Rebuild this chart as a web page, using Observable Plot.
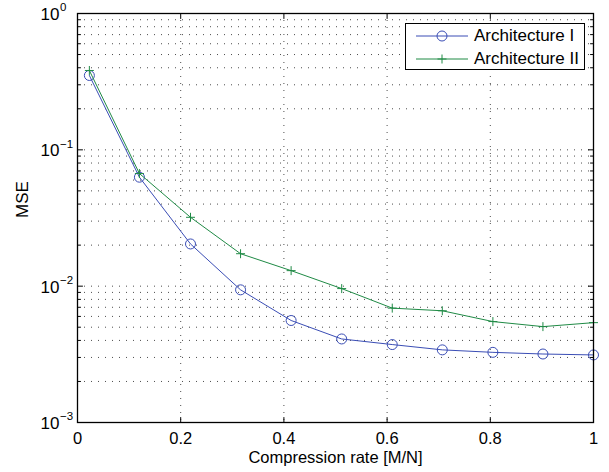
<!DOCTYPE html>
<html>
<head>
<meta charset="utf-8">
<script src="https://cdn.jsdelivr.net/npm/d3@7"></script>
<script src="https://cdn.jsdelivr.net/npm/@observablehq/plot@0.6"></script>
<style>
  html, body { margin: 0; padding: 0; background: #fff; }
  #wrap { position: relative; width: 609px; height: 472px; font-family: "Liberation Sans", Arial, Helvetica, sans-serif; }
  #legend { position: absolute; left: 405px; top: 23px; width: 180px; height: 47px; border: 1px solid #000; background: #fff; box-sizing: border-box; }
  .row { position: absolute; left: 0; height: 20px; display: flex; align-items: center; font-size: 17px; color: #000; white-space: nowrap; }
  .row svg { margin-left: 10px; margin-right: 6px; }
</style>
</head>
<body>
<div id="wrap"></div>
<script>
const compressionRate = [0.023, 0.12, 0.219, 0.316, 0.414, 0.512, 0.61, 0.707, 0.805, 0.902, 1];
const mseArchI  = [0.351, 0.063, 0.0204, 0.0094, 0.0056, 0.0041, 0.00373, 0.00341, 0.00327, 0.00318, 0.00313];
const mseArchII = [0.382, 0.067, 0.032, 0.0173, 0.013, 0.0096, 0.0069, 0.0066, 0.0055, 0.00505, 0.0054];
const seriesNames = ["Architecture I", "Architecture II"];
const seriesColors = ["#3a4db5", "#1f8a45"];
const xTicks = [0, 0.2, 0.4, 0.6, 0.8, 1];
const xTickLabels = ["0", "0.2", "0.4", "0.6", "0.8", "1"];
const yDecadeExps = [0, -1, -2, -3];
const yExpLabels = ["0", "\u22121", "\u22122", "\u22123"];
const xLabel = "Compression rate [M/N]";
const yLabel = "MSE";

const dataI = compressionRate.map((x, i) => ({x, y: mseArchI[i]}));
const dataII = compressionRate.map((x, i) => ({x, y: mseArchII[i]}));

const majorY = yDecadeExps.map(e => 10 ** e);
const minorY = [];
for (const e of [-3, -2, -1]) for (let k = 2; k <= 9; k++) minorY.push(k * 10 ** e);
const gridY = minorY.concat(majorY.filter(v => v > 1e-3 && v < 1));
const gridX = xTicks.filter(v => v > 0 && v < 1);

const tickShape = {draw(ctx, l) { ctx.moveTo(0, 0); ctx.lineTo(0, -l); }};
const tk = (data, opts) => Plot.vector(data, {anchor: "start", shape: tickShape, stroke: "#000", strokeWidth: 1, ...opts});

const font = "Liberation Sans, Arial, Helvetica, sans-serif";

const chart = Plot.plot({
  width: 609,
  height: 472,
  marginLeft: 77,
  marginRight: 16,
  marginTop: 13,
  marginBottom: 50,
  style: {fontFamily: font, background: "#fff", overflow: "visible"},
  x: {domain: [0, 1], axis: null},
  y: {type: "log", domain: [1e-3, 1], axis: null},
  marks: [
    // dotted grid
    Plot.ruleY(gridY, {stroke: "#000", strokeOpacity: 0.7, strokeWidth: 1, strokeDasharray: "1,6"}),
    Plot.ruleX(gridX, {stroke: "#000", strokeOpacity: 0.7, strokeWidth: 1, strokeDasharray: "1,6"}),
    // inward ticks
    tk(majorY, {x: 0, y: d => d, rotate: 90, length: 5}),
    tk(majorY, {x: 1, y: d => d, rotate: -90, length: 5}),
    tk(minorY, {x: 0, y: d => d, rotate: 90, length: 3}),
    tk(minorY, {x: 1, y: d => d, rotate: -90, length: 3}),
    tk(xTicks, {x: d => d, y: 1e-3, rotate: 0, length: 5}),
    tk(xTicks, {x: d => d, y: 1, rotate: 180, length: 5}),
    // series
    Plot.line(dataI, {x: "x", y: "y", stroke: seriesColors[0], strokeWidth: 1}),
    Plot.dot(dataI, {x: "x", y: "y", r: 5, stroke: seriesColors[0], strokeWidth: 1, fill: "none"}),
    Plot.line(dataII, {x: "x", y: "y", stroke: seriesColors[1], strokeWidth: 1}),
    Plot.dot(dataII, {x: "x", y: "y", symbol: "plus", r: 3, stroke: seriesColors[1], strokeWidth: 1}),
    // frame
    Plot.frame({stroke: "#000", strokeWidth: 1.3}),
    // x tick labels
    Plot.text(xTicks, {x: d => d, y: 1e-3, text: (d, i) => xTickLabels[i], lineAnchor: "middle", dy: 16, fontSize: 16.5, fill: "#000"}),
    // y tick labels: 10^e
    Plot.text(yDecadeExps, {x: 0, y: d => 10 ** d, text: () => "10", textAnchor: "end", dx: -18, dy: 1, fontSize: 17, fill: "#000"}),
    Plot.text(yDecadeExps, {x: 0, y: d => 10 ** d, text: (d, i) => yExpLabels[i], textAnchor: "start", dx: -17.5, dy: -6, fontSize: 11.5, fill: "#000"}),
    // axis labels
    Plot.text([xLabel], {frameAnchor: "bottom", text: d => d, dy: 40, fontSize: 16.5, fill: "#000"}),
    Plot.text([yLabel], {frameAnchor: "left", text: d => d, dx: -55, rotate: -90, fontSize: 17, fill: "#000"})
  ]
});

const wrap = document.getElementById("wrap");
wrap.appendChild(chart);

// legend
const legend = document.createElement("div");
legend.id = "legend";
seriesNames.forEach((name, i) => {
  const row = document.createElement("div");
  row.className = "row";
  row.style.top = (i === 0 ? 2 : 25) + "px";
  const marker = i === 0
    ? `<circle cx="26" cy="10" r="5" fill="none" stroke="${seriesColors[0]}" stroke-width="1"/>`
    : `<path d="M21.5,10H30.5M26,5.5V14.5" stroke="${seriesColors[1]}" stroke-width="1"/>`;
  row.innerHTML = `<svg width="52" height="20"><line x1="0" y1="10" x2="52" y2="10" stroke="${seriesColors[i]}" stroke-width="1"/>${marker}</svg><span>${name}</span>`;
  legend.appendChild(row);
});
wrap.appendChild(legend);
</script>
</body>
</html>
